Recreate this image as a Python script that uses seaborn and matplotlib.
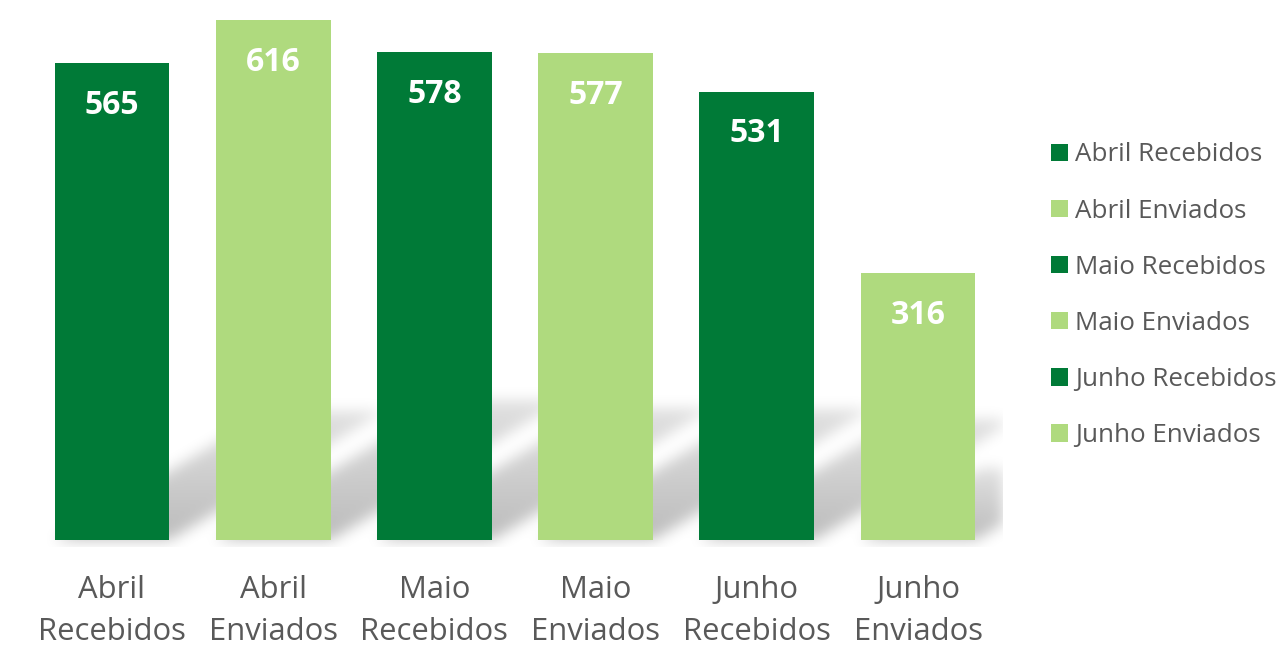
import numpy as np
import pandas as pd
import seaborn as sns
import matplotlib.pyplot as plt

# data
CATEGORIAS = ["Abril Recebidos", "Abril Enviados", "Maio Recebidos",
              "Maio Enviados", "Junho Recebidos", "Junho Enviados"]
VALORES = [565, 616, 578, 577, 531, 316]
CORES = ["#007A37", "#AFDA7E", "#007A37", "#AFDA7E", "#007A37", "#AFDA7E"]

TEXT_GREY = "#595959"
SHADOW_SLOPE = 0.6   # shadow rise per px to the right
SHADOW_LEN = 0.27    # shadow height relative to bar height
SHADOW_BLUR = 7


def blur(a, sigma):
    r = int(3 * sigma)
    k = np.exp(-0.5 * (np.arange(-r, r + 1) / sigma) ** 2)
    k /= k.sum()
    a = np.apply_along_axis(lambda m: np.convolve(m, k, mode="same"), 0, a)
    return np.apply_along_axis(lambda m: np.convolve(m, k, mode="same"), 1, a)


def draw_shadow(ax, bars):
    # soft perspective shadow cast up-right from the bar bases
    x0l, x1l = ax.get_xlim()
    y0l, y1l = ax.get_ylim()
    bbox = ax.get_window_extent()
    W, H = int(round(bbox.width)), int(round(bbox.height))
    sx, sy = W / (x1l - x0l), H / (y1l - y0l)
    px = np.arange(W) + 0.5
    py = np.arange(H) + 0.5 + y0l * sy
    PX, PY = np.meshgrid(px, py)
    mask = np.zeros((H, W))
    for bar in bars:
        bx0 = (bar.get_x() - x0l) * sx
        bx1 = bx0 + bar.get_width() * sx
        hs = SHADOW_LEN * bar.get_height() * sy
        u = PX - PY / SHADOW_SLOPE
        inside = (u >= bx0) & (u <= bx1) & (PY >= 0) & (PY <= hs)
        fade = np.clip(1 - 0.55 * PY / max(hs, 1), 0, 1)
        mask = np.maximum(mask, inside * fade)
    mask = blur(mask, SHADOW_BLUR)
    rgba = np.zeros((H, W, 4))
    rgba[..., 3] = mask * 0.27
    ax.imshow(rgba, origin="lower", extent=(x0l, x1l, y0l, y1l), aspect="auto",
              interpolation="bilinear", zorder=0.5)
    ax.set_xlim(x0l, x1l)
    ax.set_ylim(y0l, y1l)


sns.set_style("white")
plt.rcParams["font.family"] = ["Open Sans", "DejaVu Sans"]

df = pd.DataFrame({"categoria": CATEGORIAS, "valor": VALORES})

fig = plt.figure(figsize=(12.81, 6.52), dpi=100)
ax = fig.add_axes([31.4 / 1281, 105.25 / 652, 971.6 / 1281, 526.75 / 652])

sns.barplot(data=df, x="categoria", y="valor", hue="categoria", palette=CORES,
            width=0.713, saturation=1, linewidth=0, ax=ax, legend=True)

ax.set_xlim(-0.5, -0.5 + 971.6 / 161.2)
ax.set_ylim(-8, 616)

bars = [p for p in ax.patches if p.get_height() > 0]
draw_shadow(ax, bars)

for bar in bars:
    ax.annotate(f"{int(round(bar.get_height()))}",
                (bar.get_x() + bar.get_width() / 2, bar.get_height()),
                xytext=(0, -36.5), textcoords="offset points",
                ha="center", va="baseline", color="white",
                fontsize=23, fontweight="bold", zorder=5)

ax.set_xticks(range(len(CATEGORIAS)), [c.replace(" ", "\n") for c in CATEGORIAS])
ax.tick_params(axis="x", length=0, pad=20, labelsize=22.3, labelcolor=TEXT_GREY)
for lbl in ax.get_xticklabels():
    lbl.set_linespacing(1.55)
ax.set_yticks([])
ax.set_xlabel("")
ax.set_ylabel("")
sns.despine(ax=ax, left=True, bottom=True)

handles, labels = ax.get_legend_handles_labels()
ax.get_legend().remove()
fig.legend(handles, labels, loc="center left", bbox_to_anchor=(1051 / 1281, 0.547),
           frameon=False, fontsize=18.7, labelcolor=TEXT_GREY,
           handlelength=0.65, handleheight=0.65, handletextpad=0.28,
           labelspacing=1.2, borderpad=0, borderaxespad=0)

fig.savefig("out.png", dpi=100)
